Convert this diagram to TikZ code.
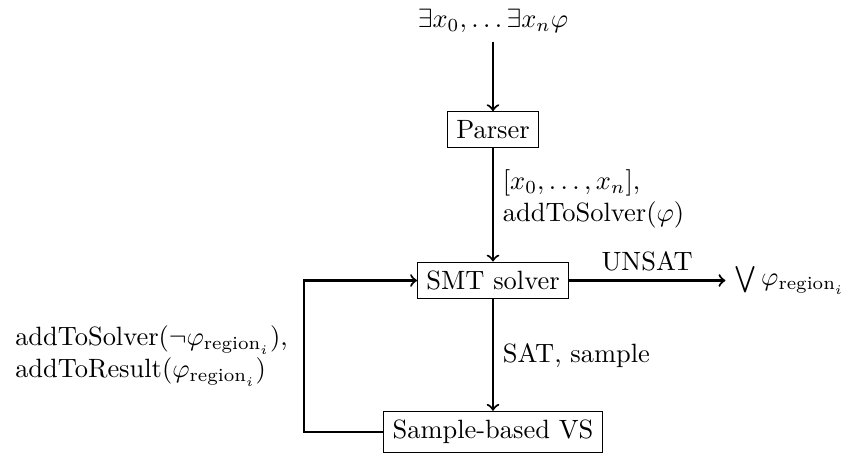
\documentclass[tikz,border=0pt]{standalone}
\usepackage{amsmath}
\begin{document}
\begin{tikzpicture}[x=0.378pt,y=-0.378pt,
  box/.style={draw,inner sep=0.3333em},
  plain/.style={inner sep=0.3333em},
  arr/.style={->,thick}]
\useasboundingbox (0,0) rectangle (849,454);
\node[plain] (in) at (493,20.7) {$\exists x_0, \ldots \exists x_n \varphi$};
\node[box] (parser) at (493,129.7) {Parser};
\node[box] (smt) at (493,280.5) {SMT solver};
\node[box] (vs) at (493,432) {Sample-based VS};
\node[plain,anchor=east] (res) at (854,280.5) {$\bigvee \varphi_{\text{region}_i}$};
\node[plain,anchor=east,align=left] (fb) at (297,356) {addToSolver($\neg\varphi_{\text{region}_i}$),\\addToResult($\varphi_{\text{region}_i}$)};
\coordinate (loopx) at (304,0);
\draw[arr] (in) -- (parser);
\draw[arr] (parser) -- node[plain,pos=0.45,right,align=left] (lab1) {$[x_0, \ldots, x_n]$,\\addToSolver($\varphi$)} (smt);
\draw[arr] (smt) -- node[plain,right] (lab2) {SAT, sample} (vs);
\draw[arr] (smt.east) -- node[plain,above] (lab3) {UNSAT} (res.west |- smt.east);
\draw[arr] (vs.west) -- (vs.west -| loopx) |- (smt.west);
\end{tikzpicture}
\end{document}
